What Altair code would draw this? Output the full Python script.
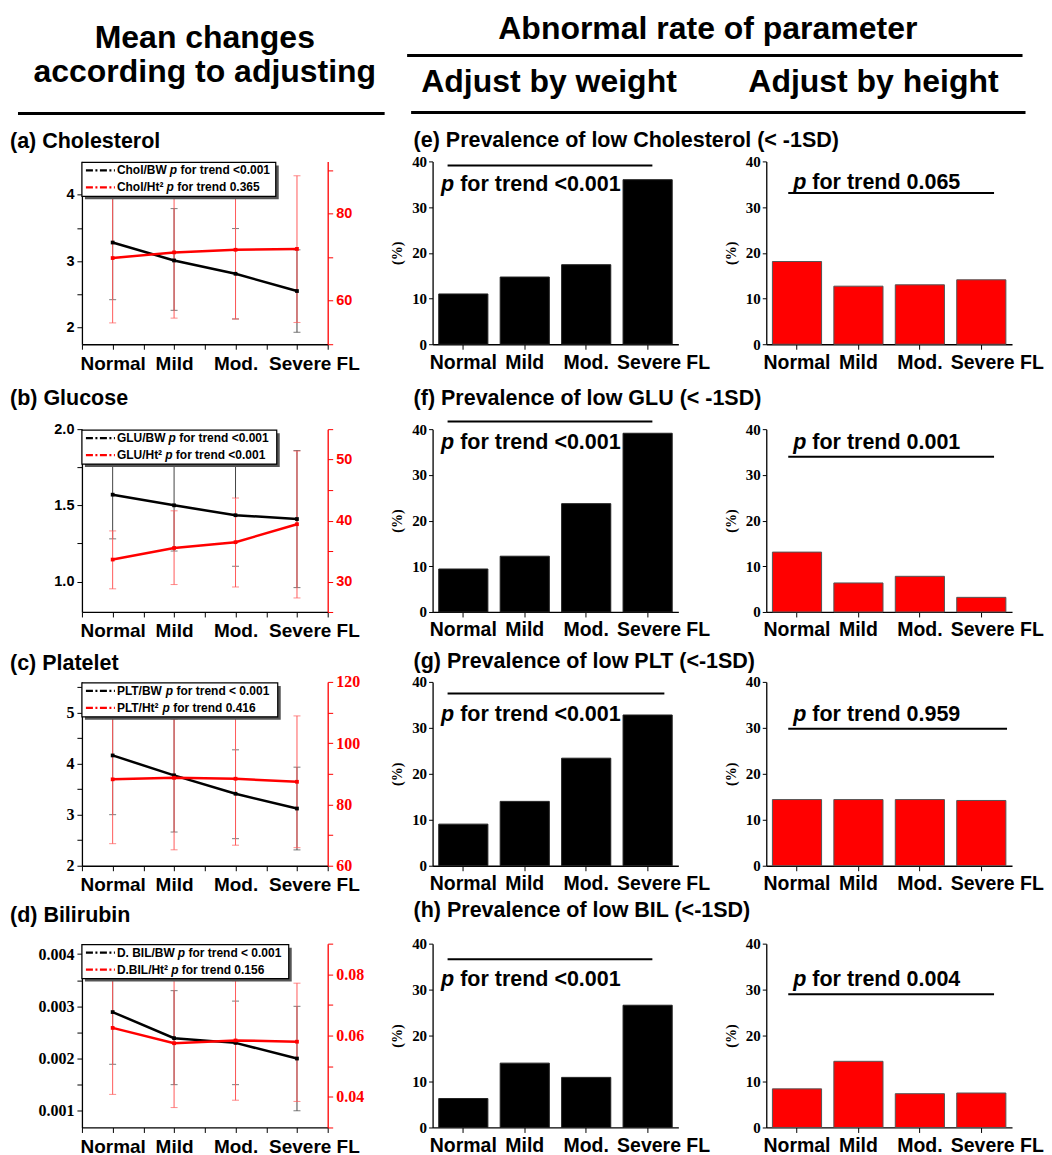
import altair as alt
import pandas as pd

SANS = "Liberation Sans, Arial, sans-serif"
SERIF = "Liberation Serif, Times New Roman, DejaVu Serif, serif"

CATS = ["Normal", "Mild", "Mod.", "Severe FL"]
IDX = [0, 1, 2, 3]

# ---- (a) Cholesterol: mean and error-bar ends ----
CHOL_BW = [3.28, 3.01, 2.81, 2.55]
CHOL_BW_LO = [2.42, 2.26, 2.13, 1.93]
CHOL_BW_HI = [4.14, 3.79, 3.49, 3.17]
CHOL_HT = [69.8, 71.1, 71.7, 71.9]
CHOL_HT_LO = [54.9, 56.0, 55.8, 55.0]
CHOL_HT_HI = [84.8, 86.2, 87.6, 88.7]

# ---- (b) Glucose ----
GLU_BW = [1.57, 1.50, 1.435, 1.41]
GLU_BW_LO = [1.28, 1.20, 1.10, 0.96]
GLU_BW_HI = [1.86, 1.80, 1.77, 1.86]
GLU_HT = [33.6, 35.5, 36.45, 39.4]
GLU_HT_LO = [28.8, 29.5, 29.1, 27.3]
GLU_HT_HI = [38.3, 41.6, 43.7, 51.4]

# ---- (c) Platelet ----
PLT_BW = [4.16, 3.77, 3.41, 3.12]
PLT_BW_LO = [3.00, 2.66, 2.53, 2.31]
PLT_BW_HI = [5.32, 4.88, 4.27, 3.93]
PLT_HT = [88.2, 88.7, 88.4, 87.4]
PLT_HT_LO = [67.2, 65.2, 66.7, 65.9]
PLT_HT_HI = [109.2, 107.9, 110.1, 108.9]

# ---- (d) Bilirubin ----
BIL_BW = [0.00289, 0.00239, 0.00230, 0.00200]
BIL_BW_LO = [0.00189, 0.00150, 0.00150, 0.00100]
BIL_BW_HI = [0.00390, 0.00330, 0.00310, 0.00300]
BIL_HT = [0.0625, 0.0575, 0.0584, 0.0580]
BIL_HT_LO = [0.0408, 0.0365, 0.0389, 0.0385]
BIL_HT_HI = [0.0842, 0.0785, 0.0779, 0.0771]

# ---- prevalence (%) bars ----
CHOL_W = [11.0, 14.7, 17.4, 36.0]
CHOL_H = [18.1, 12.7, 13.0, 14.1]
GLU_W = [9.4, 12.2, 23.7, 39.1]
GLU_H = [13.1, 6.35, 7.8, 3.2]
PLT_W = [9.05, 14.0, 23.4, 32.8]
PLT_H = [14.4, 14.4, 14.4, 14.2]
BIL_W = [6.3, 14.0, 10.9, 26.6]
BIL_H = [8.4, 14.4, 7.35, 7.5]

P_W = ["<0.001", "<0.001", "<0.001", "<0.001"]
P_H = ["0.065", "0.001", "0.959", "0.004"]

LINE_TITLES = ["(a) Cholesterol", "(b) Glucose", "(c) Platelet", "(d) Bilirubin"]
BAR_TITLES = ["(e) Prevalence of low Cholesterol (< -1SD)",
              "(f) Prevalence of low GLU (< -1SD)",
              "(g) Prevalence of low PLT (<-1SD)",
              "(h) Prevalence of low BIL (<-1SD)"]
LEGENDS = [
    [("Chol/BW", "for trend <0.001"), ("Chol/Ht\u00b2", "for trend 0.365")],
    [("GLU/BW", "for trend <0.001"), ("GLU/Ht\u00b2", "for trend <0.001")],
    [("PLT/BW", "for trend < 0.001"), ("PLT/Ht\u00b2", "for trend 0.416")],
    [("D. BIL/BW", "for trend < 0.001"), ("D.BIL/Ht\u00b2", "for trend 0.156")],
]

LINE_DATA = [
    (CHOL_BW, CHOL_BW_LO, CHOL_BW_HI, CHOL_HT, CHOL_HT_LO, CHOL_HT_HI),
    (GLU_BW, GLU_BW_LO, GLU_BW_HI, GLU_HT, GLU_HT_LO, GLU_HT_HI),
    (PLT_BW, PLT_BW_LO, PLT_BW_HI, PLT_HT, PLT_HT_LO, PLT_HT_HI),
    (BIL_BW, BIL_BW_LO, BIL_BW_HI, BIL_HT, BIL_HT_LO, BIL_HT_HI),
]
BAR_W = [CHOL_W, GLU_W, PLT_W, BIL_W]
BAR_H = [CHOL_H, GLU_H, PLT_H, BIL_H]

# axis set-up of the line panels
LEFT_DOM = [[1.75, 4.5], [0.8, 2.0], [2.0, 5.6], [0.00068, 0.0042]]
RIGHT_DOM = [[50, 92], [25, 55], [60, 120], [0.03, 0.09]]
LEFT_TICKS = [[2, 2.5, 3, 3.5, 4], [1.0, 1.25, 1.5, 1.75, 2.0],
              [2, 2.5, 3, 3.5, 4, 4.5, 5, 5.5],
              [0.001, 0.0015, 0.002, 0.0025, 0.003, 0.0035, 0.004]]
LEFT_LABELS = [[2, 3, 4], [1.0, 1.5, 2.0], [2, 3, 4, 5], [0.001, 0.002, 0.003, 0.004]]
LEFT_FMT = ["d", ".1f", "d", ".3f"]
RIGHT_TICKS = [[50, 60, 70, 80, 90], [25, 30, 35, 40, 45, 50, 55],
               [60, 70, 80, 90, 100, 110, 120],
               [0.03, 0.04, 0.05, 0.06, 0.07, 0.08, 0.09]]
RIGHT_LABELS = [[60, 80], [30, 40, 50], [60, 80, 100, 120], [0.04, 0.06, 0.08]]
RIGHT_FMT = ["d", "d", "d", ".2f"]
TICK_FONT = [SANS, SANS, SERIF, SERIF]
TICK_SIZE = [14.5, 14.5, 16, 16]

# layout (pixels)
PW = 246
ROW_H = [183, 183, 184, 184]
ROW_GAP = [85, 70, 78]
COL_GAP = [105, 88]
LINE_TITLE_Y = [-13, -24, -12, -22]
BAR_TITLE_Y = [-14, -24, -14, -27]
LEG_BOX_W = [194, 195, 196, 207]
PLINE_X_W = [(15, 220), (15, 220), (15, 232), (15, 220)]
PLINE_X_H = [(22, 228), (22, 228), (22, 241), (22, 228)]
PLINE_Y_W = [39.1, 41.7, 37.5, 36.6]
PTEXT_Y_W = [33.5, 35.6, 31.6, 30.8]
PLINE_Y_H = [33.1, 33.95, 29.8, 29.0]
PTEXT_Y_H = [34.0, 35.6, 31.6, 30.8]
LEG_FS = 12

RED = "#ff0000"
RED_ERR = "#ff5a5a"
BLK_ERR = "#444444"

ONE = pd.DataFrame({"k": [0]})

# Arial-bold advance widths (per 1000 em) for legend prefix placement
AW = {' ': 278, '.': 278, '/': 278, '\u00b2': 333, 'B': 722, 'C': 722, 'D': 722,
      'G': 778, 'H': 722, 'I': 278, 'L': 611, 'P': 667, 'T': 611, 'U': 722,
      'W': 944, 'h': 611, 'l': 278, 'o': 611, 't': 333, 'p': 611}


def tw(s, size):
    return sum(AW.get(c, 600) for c in s) * size / 1000.0


def txt(s, x, y, size, color="black", font=SANS, weight="bold", style="normal",
        align="left", baseline="alphabetic"):
    return alt.Chart(ONE).mark_text(
        text=s, font=font, fontSize=size, fontWeight=weight, fontStyle=style,
        color=color, align=align, baseline=baseline
    ).encode(x=alt.value(x), y=alt.value(y))


def hline(x1, x2, y, width=2, color="black", dash=None):
    kw = dict(color=color, strokeWidth=width)
    if dash:
        kw["strokeDash"] = dash
    return alt.Chart(ONE).mark_rule(**kw).encode(
        x=alt.value(x1), x2=alt.value(x2), y=alt.value(y))


def box(x1, x2, y1, y2, fill, stroke=None):
    kw = dict(fill=fill)
    if stroke:
        kw.update(stroke=stroke, strokeWidth=1.2)
    return alt.Chart(ONE).mark_rect(**kw).encode(
        x=alt.value(x1), x2=alt.value(x2), y=alt.value(y1), y2=alt.value(y2))


def spacer(w, h):
    return alt.Chart(ONE).mark_point(opacity=0).encode(
        x=alt.value(0), y=alt.value(0)).properties(width=w, height=h)


def y_axis(values, labeled, fmt, font, size, color, orient):
    test = " || ".join(f"datum.value == {v!r}" for v in labeled)
    return alt.Axis(
        orient=orient, values=values, title=None,
        labelExpr=f"({test}) ? format(datum.value, '{fmt}') : ''",
        labelFont=font, labelFontSize=size, labelFontWeight="bold",
        labelColor=color, domainColor=color, tickColor=color,
        tickSize=5, labelPadding=3, grid=False, labelOverlap=False,
        labelFlush=False, domainWidth=1.3)


def legend_layer(r):
    w = LEG_BOX_W[r]
    layers = [box(3, w + 3, 4, 38, "#555555"), box(0, w, 1, 35, "white", "black")]
    colors = ["black", RED]
    for k, (pre, suf) in enumerate(LEGENDS[r]):
        yy = 9 + 17 * k
        layers.append(hline(4, 33, yy, 2.2, colors[k], [7, 2.5, 2, 2.5]))
        layers.append(txt(pre, 35, yy, LEG_FS, baseline="middle"))
        px = 35 + tw(pre, LEG_FS) + 3
        layers.append(txt("p", px, yy, LEG_FS, style="italic", baseline="middle"))
        layers.append(txt(suf, px + tw("p ", LEG_FS), yy, LEG_FS, baseline="middle"))
    return layers


def line_panel(r):
    m, lo, hi, m2, lo2, hi2 = LINE_DATA[r]
    df = pd.DataFrame({"i": IDX, "m": m, "lo": lo, "hi": hi,
                       "m2": m2, "lo2": lo2, "hi2": hi2})
    base = alt.Chart(df)
    lab = "[" + ",".join("'" + c + "'" for c in CATS) + "]"
    xax = alt.Axis(
        values=[-0.5, 0, 0.5, 1, 1.5, 2, 2.5, 3, 3.5], title=None,
        labelExpr=f"datum.value % 1 == 0 ? {lab}[datum.value] : ''",
        labelFont=SANS, labelFontSize=19, labelFontWeight="bold",
        labelOffset={"condition": {"test": "datum.value == 3", "value": 17}, "value": 0},
        tickSize=5, labelPadding=5, labelOverlap=False, labelFlush=False,
        grid=False, domainColor="black", tickColor="black", domainWidth=1.3)
    xenc = alt.X("i:Q", scale=alt.Scale(domain=[-0.5, 3.5], nice=False, zero=False), axis=xax)
    ls = alt.Scale(domain=LEFT_DOM[r], nice=False, zero=False)
    rs = alt.Scale(domain=RIGHT_DOM[r], nice=False, zero=False)
    lax = y_axis(LEFT_TICKS[r], LEFT_LABELS[r], LEFT_FMT[r], TICK_FONT[r], TICK_SIZE[r], "black", "left")
    rax = y_axis(RIGHT_TICKS[r], RIGHT_LABELS[r], RIGHT_FMT[r], TICK_FONT[r], TICK_SIZE[r], RED, "right")

    def err(lo_f, hi_f, scale, axis, color):
        return alt.layer(
            base.mark_rule(color=color, strokeWidth=1).encode(
                x=xenc, y=alt.Y(f"{lo_f}:Q", scale=scale, axis=axis), y2=hi_f),
            base.mark_tick(color=color, orient="horizontal", size=7, thickness=1).encode(
                x=xenc, y=alt.Y(f"{lo_f}:Q", scale=scale, axis=axis)),
            base.mark_tick(color=color, orient="horizontal", size=7, thickness=1).encode(
                x=xenc, y=alt.Y(f"{hi_f}:Q", scale=scale, axis=axis)),
        )

    def ln(f, scale, color):
        return alt.layer(
            base.mark_line(color=color, strokeWidth=2.5).encode(
                x=xenc, y=alt.Y(f"{f}:Q", scale=scale, axis=None)),
            base.mark_point(shape="square", filled=True, size=14, color=color, opacity=1).encode(
                x=xenc, y=alt.Y(f"{f}:Q", scale=scale, axis=None)),
        )

    extras = legend_layer(r)
    extras.append(txt(LINE_TITLES[r], -72, LINE_TITLE_Y[r], 21.5))
    if r == 0:
        extras += [
            box(-74, -73, -153, -152, "white"),
            txt("Mean changes", 123, -114, 32, align="center"),
            txt("according to adjusting", 123, -79, 32, align="center"),
            hline(-64, 303, -48, 3),
        ]
    return alt.layer(
        err("lo", "hi", ls, lax, BLK_ERR),
        err("lo2", "hi2", rs, rax, RED_ERR),
        ln("m", ls, "black"),
        ln("m2", rs, RED),
        *extras,
    ).resolve_scale(y="independent").properties(width=PW, height=ROW_H[r])


def bar_panel(r, kind):
    vals = BAR_W[r] if kind == "w" else BAR_H[r]
    df = pd.DataFrame({"cat": CATS, "v": vals})
    xax = alt.Axis(
        title=None, labelAngle=0, labelFont=SANS, labelFontSize=19.5, labelFontWeight="bold",
        labelOffset={"condition": {"test": "datum.value == 'Severe FL'", "value": 16}, "value": 0},
        tickSize=5, labelPadding=4, labelOverlap=False, domainColor="black",
        tickColor="black", domainWidth=1.3)
    yax = alt.Axis(
        values=list(range(0, 41, 5)), labelExpr="datum.value % 10 == 0 ? datum.label : ''",
        title="(%)", titleFont=SERIF, titleFontSize=14, titleFontWeight="bold",
        titlePadding=7, labelFont=SERIF, labelFontSize=15, labelFontWeight="bold",
        tickSize=4, labelPadding=2, grid=False, domainColor="black", tickColor="black",
        domainWidth=1.3, labelOverlap=False)
    color = "black" if kind == "w" else RED
    stroke = "#222222" if kind == "w" else "#555555"
    bars = alt.Chart(df).mark_bar(color=color, stroke=stroke, strokeWidth=1).encode(
        x=alt.X("cat:N", sort=CATS, scale=alt.Scale(paddingInner=0.2, paddingOuter=0.1), axis=xax),
        y=alt.Y("v:Q", scale=alt.Scale(domain=[0, 40], nice=False, zero=True), axis=yax),
    )
    if kind == "w":
        (lx1, lx2), ly, ty, tx, pv = PLINE_X_W[r], PLINE_Y_W[r], PTEXT_Y_W[r], 8.5, P_W[r]
    else:
        (lx1, lx2), ly, ty, tx, pv = PLINE_X_H[r], PLINE_Y_H[r], PTEXT_Y_H[r], 27, P_H[r]
    ann = [
        alt.Chart(ONE).mark_rule(color="black", strokeWidth=2).encode(
            x=alt.value(lx1), x2=alt.value(lx2), y=alt.datum(ly)),
        alt.Chart(ONE).mark_text(text="p", font=SANS, fontSize=21.5, fontWeight="bold",
                                 fontStyle="italic", align="left", baseline="alphabetic").encode(
            x=alt.value(tx), y=alt.datum(ty)),
        alt.Chart(ONE).mark_text(text="for trend " + pv, font=SANS, fontSize=21.5, fontWeight="bold",
                                 align="left", baseline="alphabetic").encode(
            x=alt.value(tx + tw("p ", 21.5)), y=alt.datum(ty)),
    ]
    if kind == "w":
        ann.append(txt(BAR_TITLES[r], -19, BAR_TITLE_Y[r], 21.5))
        if r == 0:
            ann += [
                txt("Abnormal rate of parameter", 275.5, -123, 32, align="center"),
                hline(-25.5, 590.5, -106, 3),
                txt("Adjust by weight", 116.5, -69, 32, align="center"),
                hline(-21.5, 593.5, -49, 3),
            ]
    else:
        if r == 0:
            ann.append(txt("Adjust by height", 107.3, -69, 32, align="center"))
    return alt.layer(bars, *ann).properties(width=PW, height=ROW_H[r])


cells = []
for r in range(4):
    cells += [line_panel(r), spacer(COL_GAP[0], ROW_H[r]), bar_panel(r, "w"),
              spacer(COL_GAP[1], ROW_H[r]), bar_panel(r, "h")]
    if r < 3:
        g = ROW_GAP[r]
        cells += [spacer(PW, g), spacer(COL_GAP[0], g), spacer(PW, g),
                  spacer(COL_GAP[1], g), spacer(PW, g)]

chart = alt.concat(*cells, columns=5, spacing=0, bounds="flush", align="each").properties(
    padding=0
).configure_view(stroke=None).configure_axis(grid=False)

chart.save("out.html", embed_options={"renderer": "svg", "actions": False})
